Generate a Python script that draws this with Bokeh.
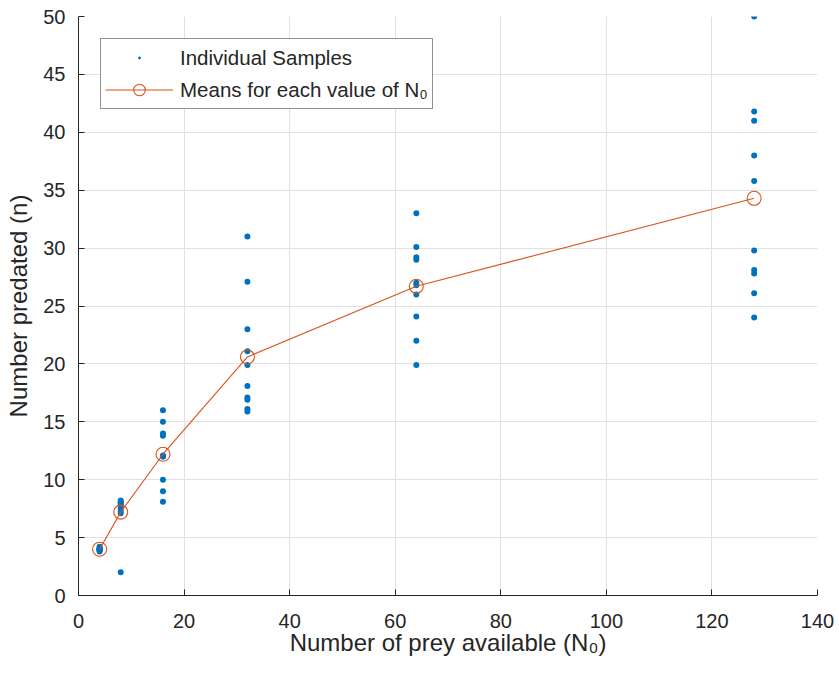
from bokeh.plotting import figure
from bokeh.models import ColumnDataSource, Legend, LegendItem, Range1d, FixedTicker
from bokeh.embed import file_html
from bokeh.resources import INLINE

# ---- data ----
n0_levels = [4, 8, 16, 32, 64, 128]
samples_4 = [4.2, 4.1, 4.0, 3.9, 3.8, 4.0, 4.0, 3.9, 4.1, 4.0]
samples_8 = [8.2, 8.1, 8.0, 7.9, 7.8, 7.7, 7.5, 7.3, 7.1, 2.0]
samples_16 = [16.0, 15.0, 14.0, 13.8, 12.0, 12.1, 12.0, 10.0, 9.0, 8.1]
samples_32 = [31.0, 27.1, 23.0, 21.1, 19.9, 18.1, 17.1, 16.9, 16.1, 15.9]
samples_64 = [33.0, 30.1, 29.0, 29.2, 27.0, 26.8, 26.0, 24.1, 22.0, 19.9]
samples_128 = [50.0, 41.8, 41.0, 38.0, 35.8, 29.8, 28.1, 27.8, 26.1, 24.0]
means = [4.0, 7.2, 12.2, 20.6, 26.7, 34.3]

x_ticks = [0, 20, 40, 60, 80, 100, 120, 140]
y_ticks = [0, 5, 10, 15, 20, 25, 30, 35, 40, 45, 50]

all_samples = [samples_4, samples_8, samples_16, samples_32, samples_64, samples_128]
xs, ys = [], []
for lvl, s in zip(n0_levels, all_samples):
    xs.extend([lvl] * len(s))
    ys.extend(s)

BLUE = "#0072BD"
ORANGE = "#D95319"
DARK = "#262626"
FONT = "Liberation Sans"

p = figure(width=839, height=673, output_backend="svg", toolbar_location=None,
           x_range=Range1d(0, 140), y_range=Range1d(0, 50),
           min_border_left=78, min_border_right=22, min_border_top=16, min_border_bottom=78)
p.outline_line_color = None
p.background_fill_color = "white"
p.border_fill_color = "white"

src_s = ColumnDataSource(dict(x=xs, y=ys))
src_m = ColumnDataSource(dict(x=n0_levels, y=means))

r_dots = p.scatter("x", "y", source=src_s, marker="dot", size=24,
                   line_color=BLUE, fill_color=BLUE)
r_line = p.line("x", "y", source=src_m, line_color=ORANGE, line_width=1.1)
r_circ = p.scatter("x", "y", source=src_m, marker="circle", size=14,
                   fill_color=None, line_color=ORANGE, line_width=1.1)

for ax in (p.xaxis[0], p.yaxis[0]):
    ax.axis_line_color = DARK
    ax.major_tick_line_color = DARK
    ax.major_tick_in = 6
    ax.major_tick_out = 0
    ax.minor_tick_line_color = None
    ax.major_label_text_font = FONT
    ax.major_label_text_font_size = "20px"
    ax.major_label_text_color = DARK
    ax.axis_label_text_font = FONT
    ax.axis_label_text_font_size = "24px"
    ax.axis_label_text_font_style = "normal"
    ax.axis_label_text_color = DARK

p.xaxis.ticker = FixedTicker(ticks=x_ticks)
p.yaxis.ticker = FixedTicker(ticks=y_ticks)
p.xaxis.axis_label = "Number of prey available (N\u2080)"
p.yaxis.axis_label = "Number predated (n)"
p.xaxis.major_label_standoff = 18
p.yaxis.major_label_standoff = 13
p.xaxis.axis_label_standoff = -2
p.yaxis.axis_label_standoff = 8

p.xgrid.ticker = FixedTicker(ticks=x_ticks)
p.ygrid.ticker = FixedTicker(ticks=y_ticks)
p.grid.grid_line_color = "#e0e0e0"
p.grid.grid_line_width = 1

legend = Legend(items=[
    LegendItem(label="Individual Samples", renderers=[r_dots]),
    LegendItem(label="Means for each value of N\u2080", renderers=[r_line, r_circ]),
], location=(22, 486))
legend.label_text_font = FONT
legend.label_text_font_size = "20.5px"
legend.label_text_color = DARK
legend.border_line_color = DARK
legend.border_line_width = 1
legend.background_fill_color = "white"
legend.background_fill_alpha = 1.0
legend.glyph_width = 68
legend.glyph_height = 29
legend.label_height = 29
legend.spacing = 3
legend.padding = 4
legend.margin = 0
legend.label_standoff = 7
p.add_layout(legend, "center")

open("out.html", "w").write(file_html(p, INLINE))
